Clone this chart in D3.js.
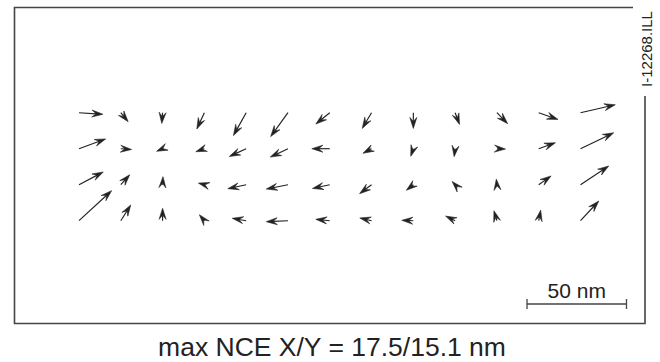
<!DOCTYPE html>
<html>
<head>
<meta charset="utf-8">
<script src="https://cdn.jsdelivr.net/npm/d3@7"></script>
<style>
  html, body { margin: 0; padding: 0; background: #fff; }
  svg { display: block; }
  text { font-family: "Liberation Sans", Arial, Helvetica, sans-serif; fill: #222; }
</style>
</head>
<body>
<svg id="chart" width="660" height="362"></svg>
<script>
// Field grid positions (13 columns x 4 rows)
const fieldX = [-12, -10, -8, -6, -4, -2, 0, 2, 4, 6, 8, 10, 12];
const fieldY = [3, 1, -1, -3];

// Non-correctable error vectors in nm, one array per field row (top row first)
const nceXRow1 = [12.0, 3.7, -0.4, -3.8, -6.4, -8.7, -7.0, -4.7, 0.0, 2.2, 5.4, 9.7, 17.5];
const nceYRow1 = [-0.8, -4.5, -5.4, -8.2, -11.5, -12.0, -5.7, -7.9, -7.9, -5.9, -5.5, -3.4, 4.0];
const nceXRow2 = [13.4, 5.4, -3.0, -4.3, -8.5, -8.9, -9.0, -4.3, -1.3, -0.5, 4.3, 8.4, 16.7];
const nceYRow2 = [4.9, -0.4, -1.3, -1.5, -3.9, -4.2, 0.0, -2.3, -3.8, -4.0, -0.2, 3.0, 8.0];
const nceXRow3 = [12.2, 4.5, 0.2, -3.0, -9.2, -10.9, -8.7, -6.0, -3.5, -1.5, -0.3, 6.2, 14.2];
const nceYRow3 = [6.4, 5.0, 4.0, 0.8, -2.0, -2.2, -1.9, -4.5, -2.8, 1.6, 2.8, 4.4, 9.4];
const nceXRow4 = [16.4, 5.0, 0.0, -2.5, -7.0, -10.9, -7.0, -5.9, -5.8, -4.8, -1.5, 1.0, 9.2];
const nceYRow4 = [15.1, 7.9, 6.2, 3.0, 1.2, -0.5, 0.7, 1.4, 0.2, 2.3, 5.0, 5.3, 9.9];

const scaleBarNm = 50;
const scaleBarLabel = "50 nm";
const captionText = "max NCE X/Y = 17.5/15.1 nm";
const figureId = "I-12268.ILL";

const rowsX = [nceXRow1, nceXRow2, nceXRow3, nceXRow4];
const rowsY = [nceYRow1, nceYRow2, nceYRow3, nceYRow4];

const svg = d3.select("#chart");
const ink = "#222";
const frameInk = "#444";

// Position scales for the field grid and a length scale for the vectors
const x = d3.scaleLinear().domain([-12, 12]).range([79, 580.5]);
const y = d3.scaleLinear().domain([-3, 3]).range([220.7, 112.7]);
const vec = d3.scaleLinear().domain([0, 50]).range([0, 99.5]);

// Frame: open at the upper right where the figure id sits
const frame = svg.append("g").attr("fill", "none").attr("stroke", frameInk).attr("stroke-width", 1.6);
frame.append("path").attr("d", "M633,7.5 H14.5 V323.5 H645 V96");

svg.append("text")
  .attr("transform", "translate(652,49) rotate(-90)")
  .attr("text-anchor", "middle")
  .style("font-size", "15px")
  .text(figureId);

// Build the vector list
const vectors = [];
rowsX.forEach((row, r) => {
  row.forEach((vx, c) => {
    vectors.push({ fx: fieldX[c], fy: fieldY[r], vx: vx, vy: rowsY[r][c] });
  });
});

const headLen = 11, headHalf = 3.5, notch = 0.62;

function arrowParts(d) {
  const x0 = x(d.fx), y0 = y(d.fy);
  const dx = vec(d.vx), dy = -vec(d.vy);
  const len = Math.hypot(dx, dy) || 1e-6;
  const ux = dx / len, uy = dy / len;
  const nx = -uy, ny = ux;
  const tx = x0 + dx, ty = y0 + dy;
  const bx = tx - headLen * ux, by = ty - headLen * uy;
  const cx = tx - headLen * notch * ux, cy = ty - headLen * notch * uy;
  const head = [[tx, ty], [bx + headHalf * nx, by + headHalf * ny], [cx, cy], [bx - headHalf * nx, by - headHalf * ny]];
  const shaftEnd = len > headLen * notch ? [cx, cy] : null;
  return { x0, y0, head, shaftEnd };
}

const arrows = svg.append("g").selectAll("g.arrow").data(vectors).join("g").attr("class", "arrow");

arrows.filter(d => arrowParts(d).shaftEnd)
  .append("line")
  .attr("x1", d => arrowParts(d).x0)
  .attr("y1", d => arrowParts(d).y0)
  .attr("x2", d => arrowParts(d).shaftEnd[0])
  .attr("y2", d => arrowParts(d).shaftEnd[1])
  .attr("stroke", ink)
  .attr("stroke-width", 1.15);

arrows.append("path")
  .attr("d", d => d3.line()(arrowParts(d).head) + "Z")
  .attr("fill", ink)
  .attr("stroke", ink)
  .attr("stroke-width", 0.6)
  .attr("stroke-linejoin", "miter");

// Scale bar
const sbX0 = 527, sbY = 304;
const sb = d3.scaleLinear().domain([0, scaleBarNm]).range([sbX0, sbX0 + vec(scaleBarNm)]);
const bar = svg.append("g").attr("stroke", frameInk).attr("stroke-width", 1.3);
bar.append("line").attr("x1", sb(0)).attr("x2", sb(scaleBarNm)).attr("y1", sbY).attr("y2", sbY);
[0, scaleBarNm].forEach(v => {
  bar.append("line").attr("x1", sb(v)).attr("x2", sb(v)).attr("y1", sbY - 5).attr("y2", sbY + 5);
});
svg.append("text")
  .attr("x", sb(scaleBarNm / 2))
  .attr("y", 298)
  .attr("text-anchor", "middle")
  .style("font-size", "21px")
  .text(scaleBarLabel);

// Caption
svg.append("text")
  .attr("x", 332)
  .attr("y", 356)
  .attr("text-anchor", "middle")
  .style("font-size", "26.5px")
  .text(captionText);
</script>
</body>
</html>
